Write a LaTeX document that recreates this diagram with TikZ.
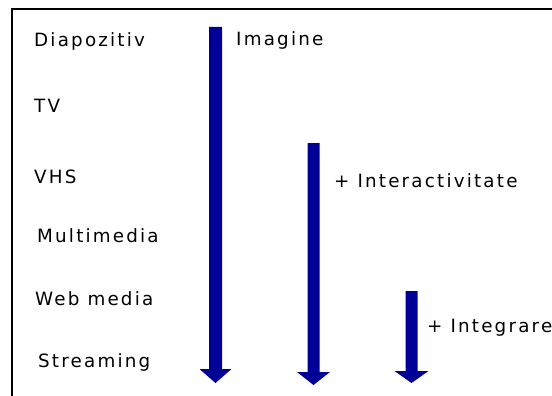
\documentclass[tikz,border=0pt]{standalone}
\usepackage{fontspec}
\usetikzlibrary{calc}
\newfontfamily\lblfont{DejaVu Sans}[LetterSpace=12]
\definecolor{navy}{RGB}{0,0,150}
\begin{document}
\begin{tikzpicture}[x=1pt,y=-1pt,
  lbl/.style={anchor=base west,inner sep=0pt,font=\lblfont\fontsize{18.3}{22}\selectfont,text=black},
  barrow/.style={fill=navy},
  frame/.style={draw=black,line width=2.4pt}]
\useasboundingbox (0,0) rectangle (552,396);
\fill[white] (0,0) rectangle (552,396);
% frame (open to the right and bottom)
\draw[frame] (12,397) -- (12,9) -- (553,9);

% media timeline
\node[lbl] (diap) at (34,47)  {Diapozitiv};
\node[lbl] (tv)   at (34,113) {TV};
\node[lbl] (vhs)  at (34,183) {VHS};
\node[lbl] (mm)   at (37,242) {Multimedia};
\node[lbl] (web)  at (35,305) {Web media};
\node[lbl] (str)  at (38,367) {Streaming};

% feature arrows
\coordinate (top1) at (215.5,27);  \coordinate (tip1) at (215.5,383);
\coordinate (top2) at (313.5,143); \coordinate (tip2) at (313.5,385);
\coordinate (top3) at (411.5,291); \coordinate (tip3) at (411.5,383);

\fill[barrow] ($(top1)+(-6.5,0)$) -- ($(top1)+(6.5,0)$) -- ($(tip1)+(6.5,-14)$)
  -- ($(tip1)+(16,-14)$) -- (tip1) -- ($(tip1)+(-16,-14)$) -- ($(tip1)+(-6.5,-14)$) -- cycle;
\fill[barrow] ($(top2)+(-6,0)$) -- ($(top2)+(6,0)$) -- ($(tip2)+(6,-13)$)
  -- ($(tip2)+(16.5,-13)$) -- (tip2) -- ($(tip2)+(-16.5,-13)$) -- ($(tip2)+(-6,-13)$) -- cycle;
\fill[barrow] ($(top3)+(-6,0)$) -- ($(top3)+(6,0)$) -- ($(tip3)+(6,-12)$)
  -- ($(tip3)+(17,-12)$) -- (tip3) -- ($(tip3)+(-17,-12)$) -- ($(tip3)+(-6,-12)$) -- cycle;

\node[lbl] (img)   at (236,46)  {Imagine};
\node[lbl] (inter) at (334,187) {+ Interactivitate};
\node[lbl] (integ) at (427,332) {+ Integrare};
\end{tikzpicture}
\end{document}
